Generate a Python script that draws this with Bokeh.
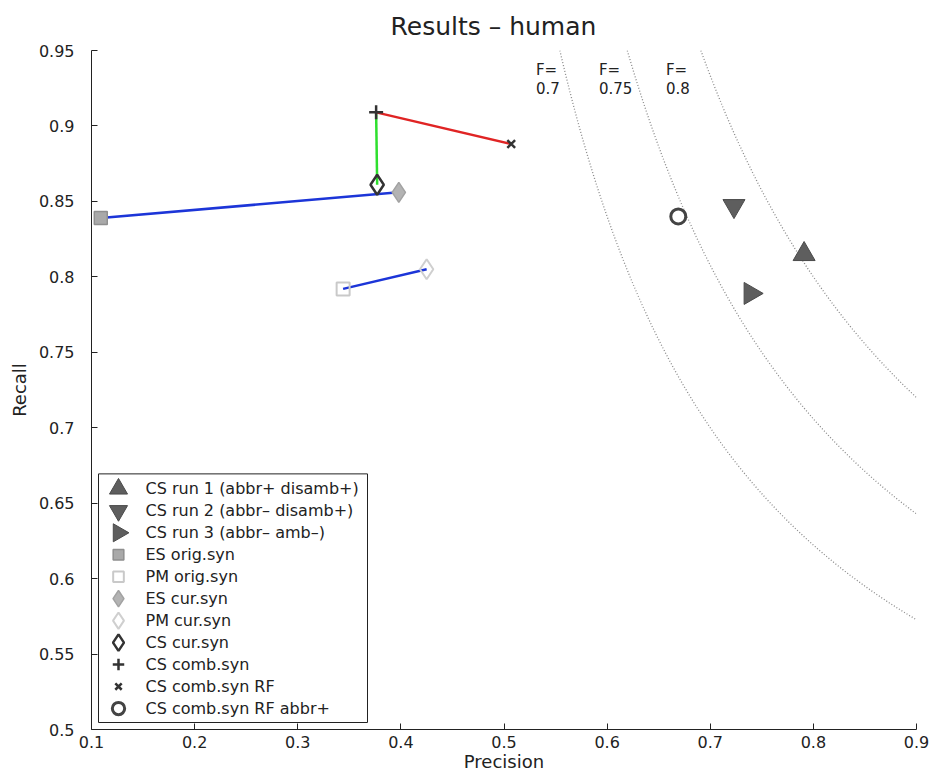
import numpy as np
from bokeh.plotting import figure
from bokeh.models import FixedTicker, Range1d
from bokeh.core.properties import value
from bokeh.embed import file_html
from bokeh.resources import INLINE

# ---- data ----
series_names = ["CS run 1 (abbr+ disamb+)", "CS run 2 (abbr\u2013 disamb+)", "CS run 3 (abbr\u2013 amb\u2013)",
                "ES orig.syn", "PM orig.syn", "ES cur.syn", "PM cur.syn", "CS cur.syn",
                "CS comb.syn", "CS comb.syn RF", "CS comb.syn RF abbr+"]
precision = [0.791, 0.723, 0.739, 0.109, 0.344, 0.398, 0.425, 0.377, 0.376, 0.507, 0.669]
recall    = [0.815, 0.847, 0.789, 0.839, 0.792, 0.856, 0.805, 0.861, 0.909, 0.888, 0.840]

# connecting segments (pairs of series indices)
blue_links = [(3, 5), (4, 6)]
green_links = [(7, 8)]
red_links = [(8, 9)]

f_values = [0.7, 0.75, 0.8]
f_labels = ["0.7", "0.75", "0.8"]
f_label_x = [0.531, 0.592, 0.657]

x_ticks = [0.1, 0.2, 0.3, 0.4, 0.5, 0.6, 0.7, 0.8, 0.9]
x_tick_labels = ["0.1", "0.2", "0.3", "0.4", "0.5", "0.6", "0.7", "0.8", "0.9"]
y_ticks = [0.5, 0.55, 0.6, 0.65, 0.7, 0.75, 0.8, 0.85, 0.9, 0.95]
y_tick_labels = ["0.5", "0.55", "0.6", "0.65", "0.7", "0.75", "0.8", "0.85", "0.9", "0.95"]

FONT = "DejaVu Sans"
TXT = "#222222"

FRAME_W, FRAME_H = 825, 680
p = figure(width=939, height=776, x_range=(0.1, 0.9), y_range=(0.5, 0.95),
           output_backend="svg", toolbar_location=None,
           title="Results \u2013 human",
           min_border_left=91, min_border_right=939 - 91 - FRAME_W,
           min_border_top=49, min_border_bottom=776 - 49 - FRAME_H)
p.title.align = "left"
p.title.text_font = FONT
p.title.text_font_size = "25px"
p.title.text_font_style = "normal"
p.title.text_color = TXT
p.title.standoff = 19
p.title.offset = 299
p.outline_line_color = None
p.grid.visible = False
p.background_fill_color = "white"
p.border_fill_color = "white"

for ax in (p.xaxis[0], p.yaxis[0]):
    ax.major_label_text_font = FONT
    ax.major_label_text_font_size = "16px"
    ax.major_label_text_color = TXT
    ax.axis_label_text_font = FONT
    ax.axis_label_text_font_size = "18px"
    ax.axis_label_text_font_style = "normal"
    ax.axis_label_text_color = TXT
    ax.major_tick_in = 6
    ax.major_tick_out = 0
    ax.minor_tick_line_color = None
    ax.axis_line_color = TXT
    ax.major_tick_line_color = TXT

p.xaxis[0].ticker = FixedTicker(ticks=x_ticks)
p.xaxis[0].major_label_overrides = {t: l for t, l in zip(x_ticks, x_tick_labels)}
p.yaxis[0].ticker = FixedTicker(ticks=y_ticks)
p.yaxis[0].major_label_overrides = {t: l for t, l in zip(y_ticks, y_tick_labels)}
p.xaxis[0].axis_label = "Precision"
p.yaxis[0].axis_label = "Recall"
p.xaxis[0].major_label_standoff = 6
p.xaxis[0].axis_label_standoff = 0
p.yaxis[0].major_label_standoff = 17
p.yaxis[0].axis_label_standoff = 6

# iso-F curves
for f in f_values:
    pmin = f * 0.95 / (2 * 0.95 - f)
    pp = np.linspace(pmin, 0.9, 300)
    rr = f * pp / (2 * pp - f)
    p.line(pp, rr, line_color="#8a8a8a", line_width=1.3, line_dash="1 2")

for fx, fl in zip(f_label_x, f_labels):
    p.text([fx], [0.943], text=["F="], text_font=value(FONT), text_font_size="15px",
           text_baseline="top", text_align="left", text_color=TXT)
    p.text([fx], [0.929], text=[fl], text_font=value(FONT), text_font_size="15px",
           text_baseline="top", text_align="left", text_color=TXT)

# connecting lines
for links, col in ((blue_links, "#1c35d8"), (green_links, "#2ee02e"), (red_links, "#e02424")):
    for a, b in links:
        p.line([precision[a], precision[b]], [recall[a], recall[b]], line_color=col, line_width=2.5)

styles = [
    dict(marker="triangle", size=22, fill_color="#5e5e5e", line_color="#4a4a4a", line_width=1, angle=0),
    dict(marker="inverted_triangle", size=22, fill_color="#5e5e5e", line_color="#4a4a4a", line_width=1, angle=0),
    dict(marker="triangle", size=22, fill_color="#5e5e5e", line_color="#4a4a4a", line_width=1, angle=-np.pi / 2),
    dict(marker="square", size=13, fill_color="#a9a9a9", line_color="#8f8f8f", line_width=1.5, angle=0),
    dict(marker="square", size=13, fill_color=None, line_color="#c9c9c9", line_width=2, angle=0),
    dict(marker="diamond", size=20, fill_color="#b3b3b3", line_color="#a2a2a2", line_width=1.5, angle=0),
    dict(marker="diamond", size=20, fill_color=None, line_color="#cfcfcf", line_width=2, angle=0),
    dict(marker="diamond", size=20, fill_color=None, line_color="#333333", line_width=2.5, angle=0),
    dict(marker="cross", size=14, fill_color=None, line_color="#333333", line_width=2.5, angle=0),
    dict(marker="x", size=11, fill_color=None, line_color="#333333", line_width=2.5, angle=0),
    dict(marker="circle", size=15, fill_color=None, line_color="#444444", line_width=3, angle=0),
]

for i, st in enumerate(styles):
    p.scatter([precision[i]], [recall[i]], marker=st["marker"], size=st["size"],
              fill_color=st["fill_color"], line_color=st["line_color"],
              line_width=st["line_width"], angle=st["angle"])

# ---- legend drawn in frame pixel units (extra ranges) ----
p.extra_x_ranges["lg"] = Range1d(0, FRAME_W)
p.extra_y_ranges["lg"] = Range1d(0, FRAME_H)
row_h = 22
first_row = 241
rows = [first_row - row_h * i for i in range(len(series_names))]
p.quad(left=[7], right=[276], top=[rows[0] + 15], bottom=[rows[-1] - 14],
       fill_color="white", line_color=TXT, line_width=1,
       x_range_name="lg", y_range_name="lg")
legend_scale = 0.82
for i, st in enumerate(styles):
    p.scatter([27], [rows[i]], marker=st["marker"], size=st["size"] * legend_scale,
              fill_color=st["fill_color"], line_color=st["line_color"],
              line_width=st["line_width"], angle=st["angle"],
              x_range_name="lg", y_range_name="lg")
p.text([54] * len(rows), rows, text=series_names, text_font=value(FONT), text_font_size="16px",
       text_baseline="middle", text_align="left", text_color=TXT,
       x_range_name="lg", y_range_name="lg")

open("out.html", "w").write(file_html(p, INLINE))
